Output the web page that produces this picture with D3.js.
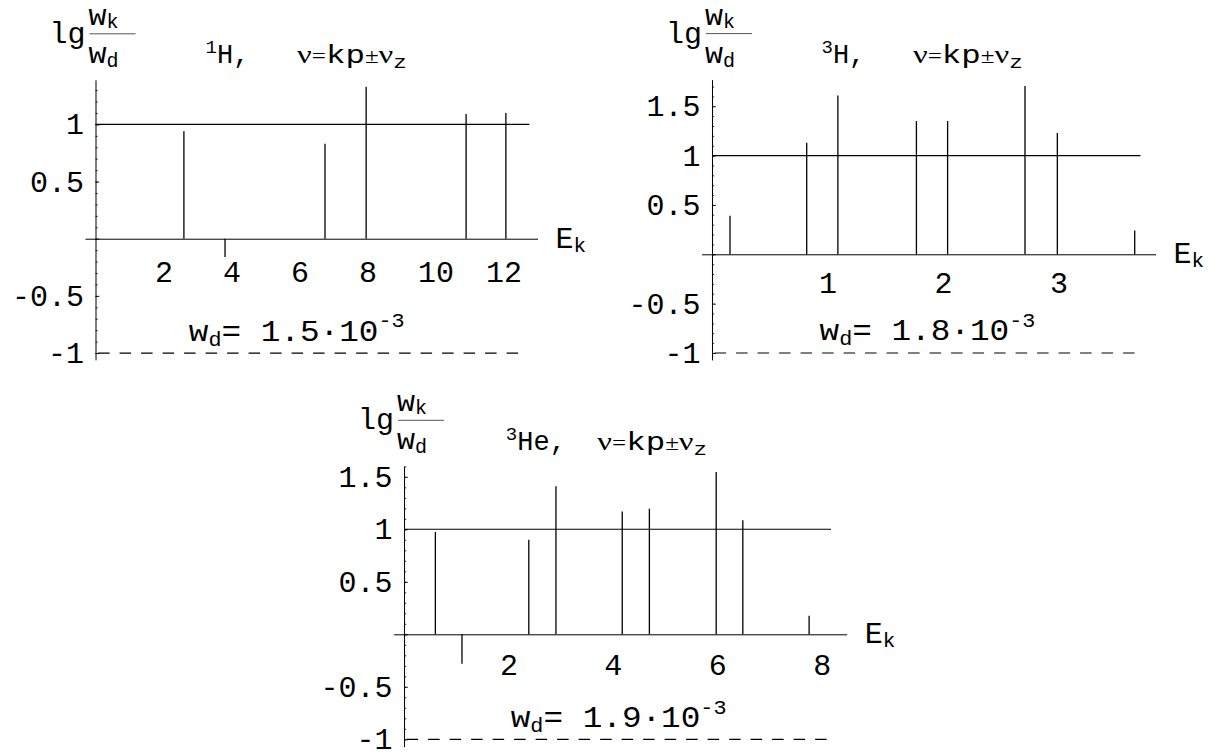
<!DOCTYPE html>
<html>
<head>
<meta charset="utf-8">
<script src="https://cdn.jsdelivr.net/npm/d3@7"></script>
<style>
  body { margin: 0; background: #fff; }
  svg { display: block; }
</style>
</head>
<body>
<svg id="chart" width="1217" height="755"></svg>
<script>
// 1H: line energies and lg(w_k/w_d)
const h1Energy = [2.60, 3.81, 6.75, 7.96, 10.9, 12.07];
const h1Ratio = [0.94, -0.16, 0.83, 1.33, 1.09, 1.10];
const h1XTicks = [2, 4, 6, 8, 10, 12];
const h1YTicks = [-1, -0.5, 0.5, 1];

// 3H
const h3Energy = [0.156, 0.82, 1.09, 1.77, 2.04, 2.71, 2.99, 3.66];
const h3Ratio = [0.39, 1.13, 1.61, 1.35, 1.35, 1.705, 1.23, 0.24];
const h3XTicks = [1, 2, 3];
const h3YTicks = [-1, -0.5, 0.5, 1, 1.5];

// 3He
const he3Energy = [0.60, 1.11, 2.39, 2.91, 4.18, 4.70, 5.98, 6.49, 7.76];
const he3Ratio = [0.974, -0.28, 0.90, 1.41, 1.17, 1.196, 1.546, 1.086, 0.177];
const he3XTicks = [2, 4, 6, 8];
const he3YTicks = [-1, -0.5, 0.5, 1, 1.5];

const wdValues = ['1.5', '1.8', '1.9'];

const panels = [
  { nucleus: '1', element: 'H', wd: wdValues[0], energy: h1Energy, ratio: h1Ratio,
    xTicks: h1XTicks, yTicks: h1YTicks, xDomain: [-0.31, 13.0], yDomain: [-1.06, 1.39], refEnd: 12.76,
    // layout
    xRange: [84.96, 537.5], yRange: [359.9, 79.8], titleDx: 112.6, wdDx: 94.3, xLabelDy: 43 },
  { nucleus: '3', element: 'H', wd: wdValues[1], energy: h3Energy, ratio: h3Ratio,
    xTicks: h3XTicks, yTicks: h3YTicks, xDomain: [-0.09, 3.84], yDomain: [-1.07, 1.77], refEnd: 3.71,
    xRange: [701.6, 1155.5], yRange: [359.9, 79.6], titleDx: 112, wdDx: 108.6, xLabelDy: 39 },
  { nucleus: '3', element: 'He', wd: wdValues[2], energy: he3Energy, ratio: he3Ratio,
    xTicks: he3XTicks, yTicks: he3YTicks, xDomain: [-0.2, 8.48], yDomain: [-1.07, 1.6], refEnd: 8.18,
    xRange: [393.6, 846.7], yRange: [746.65, 466.3], titleDx: 104.3, wdDx: 107.7, xLabelDy: 41 }
];

const mono = '"Liberation Mono", "Courier New", monospace';
const serif = '"Liberation Serif", "Times New Roman", serif';

const svg = d3.select('#chart');

panels.forEach((p) => {
  const x = d3.scaleLinear().domain(p.xDomain).range(p.xRange);
  const y = d3.scaleLinear().domain(p.yDomain).range(p.yRange);
  const g = svg.append('g');
  const ax = x(0);
  const ay = y(0);
  const top = p.yRange[1];

  // x axis with labels only
  const xg = g.append('g')
    .attr('transform', `translate(0,${ay})`)
    .call(d3.axisBottom(x).tickValues(p.xTicks).tickSize(0).tickSizeOuter(0).tickFormat((d) => String(d)));
  xg.select('.domain').attr('stroke', '#000').attr('stroke-width', 1);
  xg.selectAll('text')
    .attr('y', p.xLabelDy)
    .attr('dy', null)
    .attr('font-family', mono)
    .attr('font-size', 30)
    .attr('fill', '#000');

  // y axis: line + minor ticks (0.1), major ticks (0.5)
  const [y0, y1] = p.yDomain;
  const minor = d3.range(Math.ceil(y0 * 10), Math.floor(y1 * 10) + 1).map((i) => i / 10);
  const major = minor.filter((v) => Math.abs(v * 2 - Math.round(v * 2)) < 1e-9);

  const yMinor = g.append('g')
    .attr('transform', `translate(${ax},0)`)
    .call(d3.axisRight(y).tickValues(minor).tickSize(2.2).tickSizeOuter(0).tickFormat(''));
  yMinor.select('.domain').attr('stroke', '#000').attr('stroke-width', 1);
  yMinor.selectAll('.tick line').attr('stroke', '#000').attr('stroke-width', 0.8);

  const yMajor = g.append('g')
    .attr('transform', `translate(${ax},0)`)
    .call(d3.axisRight(y).tickValues(major).tickSize(3.8).tickFormat(''));
  yMajor.select('.domain').remove();
  yMajor.selectAll('.tick line').attr('stroke', '#000').attr('stroke-width', 0.9);

  const yLab = g.append('g')
    .attr('transform', `translate(${ax},0)`)
    .call(d3.axisLeft(y).tickValues(p.yTicks).tickSize(0).tickPadding(11.5).tickFormat((d) => String(d)));
  yLab.select('.domain').remove();
  yLab.selectAll('text')
    .attr('font-family', mono)
    .attr('font-size', 30)
    .attr('fill', '#000');

  // reference levels: solid at 1, dashed at -1 (whole dashes only)
  const refX = x(p.refEnd);
  g.append('line')
    .attr('x1', ax).attr('x2', refX)
    .attr('y1', y(1)).attr('y2', y(1))
    .attr('stroke', '#000').attr('stroke-width', 1.1);
  const dash = 11.5, gap = 10, dStart = ax + 2.6;
  const nDash = Math.floor((refX - dStart + gap) / (dash + gap));
  g.append('line')
    .attr('x1', dStart).attr('x2', dStart + nDash * (dash + gap) - gap)
    .attr('y1', y(-1)).attr('y2', y(-1))
    .attr('stroke', '#000').attr('stroke-width', 1.2)
    .attr('stroke-dasharray', `${dash},${gap}`);

  // stems
  g.selectAll('line.stem')
    .data(d3.zip(p.energy, p.ratio))
    .join('line')
    .attr('class', 'stem')
    .attr('x1', (d) => x(d[0])).attr('x2', (d) => x(d[0]))
    .attr('y1', ay).attr('y2', (d) => y(d[1]))
    .attr('stroke', '#000').attr('stroke-width', 1.3);

  // x axis label E_k
  const ek = g.append('text')
    .attr('x', p.xRange[1] + 18).attr('y', ay + 9)
    .attr('font-family', mono).attr('font-size', 30).attr('fill', '#000');
  ek.append('tspan').text('E');
  ek.append('tspan').attr('font-size', 21).attr('dy', 4).text('k');

  // y axis label lg w_k / w_d
  g.append('text')
    .attr('x', ax - 46).attr('y', top - 37)
    .attr('font-family', mono).attr('font-size', 30).attr('fill', '#000')
    .text('lg');
  const num = g.append('text')
    .attr('x', ax - 7).attr('y', top - 55)
    .attr('font-family', mono).attr('font-size', 30).attr('fill', '#000');
  num.append('tspan').text('w');
  num.append('tspan').attr('font-size', 20).attr('dy', 3).text('k');
  g.append('line')
    .attr('x1', ax - 6).attr('x2', ax + 40)
    .attr('y1', top - 46).attr('y2', top - 46)
    .attr('stroke', '#555').attr('stroke-width', 1);
  const den = g.append('text')
    .attr('x', ax - 7).attr('y', top - 17)
    .attr('font-family', mono).attr('font-size', 30).attr('fill', '#000');
  den.append('tspan').text('w');
  den.append('tspan').attr('font-size', 20).attr('dy', 4).text('d');

  // title: nucleus, then nu = kp +- nu_z (a bit stretched, like the original)
  const S = ax + p.titleDx;
  const tb = top - 16.5;
  const title = g.append('text')
    .attr('x', S - 2.5).attr('y', tb)
    .attr('font-family', mono).attr('font-size', 27).attr('fill', '#000');
  title.append('tspan').attr('dy', -10).attr('font-size', 19).text(p.nucleus);
  title.append('tspan').attr('dy', 10).text(p.element + ',');

  const freq = g.append('text')
    .attr('transform', `translate(${S + 89},${tb}) scale(1.25,1)`)
    .attr('font-family', mono).attr('font-size', 26).attr('fill', '#000');
  freq.append('tspan').attr('font-family', serif).text('ν');
  freq.append('tspan').attr('font-family', serif).attr('font-size', 20).text('=');
  freq.append('tspan').text('kp');
  freq.append('tspan').attr('font-family', serif).attr('font-size', 20).text('±');
  freq.append('tspan').attr('font-family', serif).text('ν');
  freq.append('tspan').attr('font-size', 18).attr('dy', 5).text('z');

  // w_d note
  const W = ax + p.wdDx;
  const wd = g.append('text')
    .attr('transform', `translate(${W - 1},${y(-1) - 12.5}) scale(1.09,1)`)
    .attr('font-family', mono).attr('font-size', 30).attr('fill', '#000');
  wd.append('tspan').text('w');
  wd.append('tspan').attr('font-size', 20).attr('dy', 5).text('d');
  wd.append('tspan').attr('dy', -5).text('= ' + p.wd + '·10');
  wd.append('tspan').attr('font-size', 20).attr('dy', -13.3).text('-3');
});
</script>
</body>
</html>
